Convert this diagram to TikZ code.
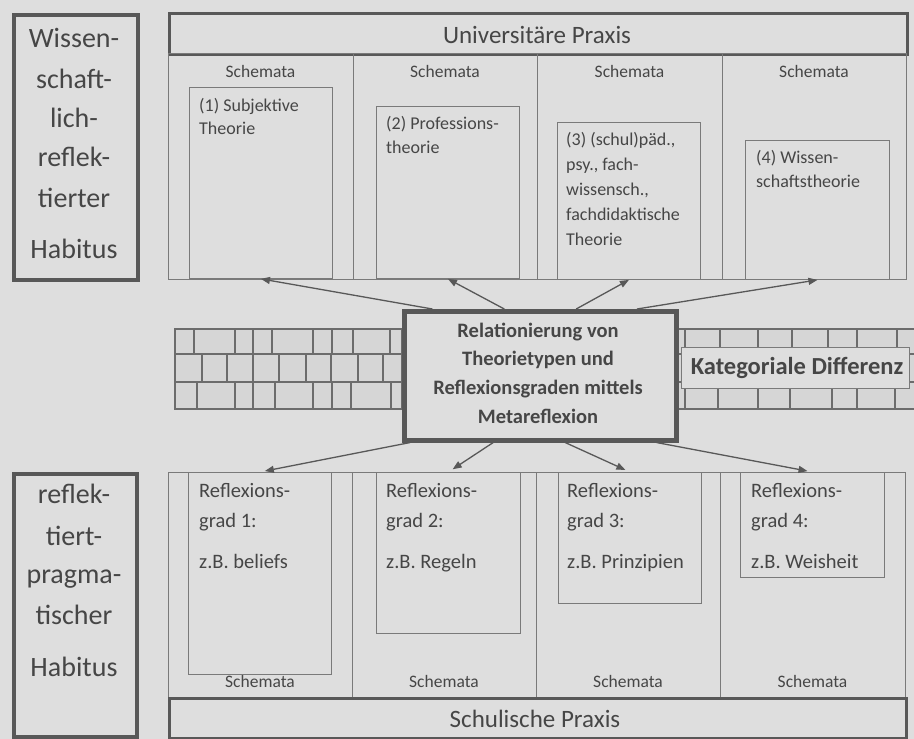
\documentclass[tikz,border=0pt]{standalone}
\usepackage{fontspec}
\setmainfont{Carlito}
\usetikzlibrary{calc,arrows.meta}
\definecolor{bg}{RGB}{222,222,222}
\definecolor{ln}{RGB}{122,122,122}
\definecolor{dk}{RGB}{88,88,88}
\definecolor{tx}{RGB}{70,70,70}
\definecolor{brickc}{RGB}{214,214,214}
\definecolor{mortar}{RGB}{108,108,108}
\begin{document}
\begin{tikzpicture}[x=1pt,y=-1pt,
  box/.style={draw=ln, line width=0.9pt, inner sep=0pt, anchor=north west},
  heavybox/.style={draw=dk, line width=3.5pt, inner sep=0pt, anchor=north west},
  praxisbox/.style={draw=dk, line width=2.5pt, inner sep=0pt, anchor=north west},
  txt/.style={inner sep=0pt, text=tx, anchor=base},
  ltxt/.style={inner sep=0pt, text=tx, anchor=base west},
  habfont/.style={font=\fontsize{28}{32}\selectfont},
  titfont/.style={font=\fontsize{25}{30}\selectfont},
  schfont/.style={font=\fontsize{17.5}{20}\selectfont},
  topfont/.style={font=\fontsize{18}{22}\selectfont},
  botfont/.style={font=\fontsize{20.5}{24}\selectfont},
  midfont/.style={font=\bfseries\fontsize{20.5}{24}\selectfont},
  katfont/.style={font=\bfseries\fontsize{24.5}{28}\selectfont},
  arr/.style={draw=dk, line width=1.3pt, -{Triangle[length=9pt,width=7pt]}},
  mort/.style={draw=mortar, line width=2.4pt}
]
\useasboundingbox (0,0) rectangle (914,739);
\fill[bg] (0,0) rectangle (914,739);

% ---------- brick walls ----------
\fill[brickc] (175,329) rectangle (402,409);
\draw[mort] (175,329) rectangle (402,409);
\draw[mort] (175,354) -- (402,354) (175,382) -- (402,382);
\foreach \x in {194,235,253,272,313,332,353,390} \draw[mort] (\x,329) -- (\x,354);
\foreach \x in {202,227,253,279,306,331,358,383} \draw[mort] (\x,354) -- (\x,382);
\foreach \x in {197,235,253,275,313,332,351,391} \draw[mort] (\x,382) -- (\x,409);

\fill[brickc] (674,329) rectangle (916,409);
\draw[mort] (674,329) -- (916,329) (674,409) -- (916,409);
\draw[mort] (674,354) -- (916,354) (674,382) -- (916,382);
\foreach \x in {685,720,758,792,828,857,897} \draw[mort] (\x,329) -- (\x,354);
\foreach \x in {702,740,775,810,845,878} \draw[mort] (\x,354) -- (\x,382);
\foreach \x in {685,718,758,790,832,857,895} \draw[mort] (\x,382) -- (\x,409);

% ---------- habitus boxes ----------
\node[heavybox, minimum width=124pt, minimum height=265pt] (hab1) at (12,13) {};
\node[heavybox, minimum width=123pt, minimum height=263pt] (hab2) at (12,472) {};
\foreach \t/\yy [count=\i] in {Wissen-/47, schaft-/88, lich-/127, reflek-/166, tierter/207, Habitus/258}
  \node[txt, habfont] (ha\i) at (74,\yy) {\t};
\foreach \t/\yy [count=\i] in {reflek-/503, tiert-/545, pragma-/583, tischer/624, Habitus/676}
  \node[txt, habfont] (hb\i) at (74,\yy) {\t};

% ---------- university practice ----------
\node[praxisbox, minimum width=738pt, minimum height=41pt] (uni) at (168,12) {};
\node[txt, titfont] (unit) at (537,43) {Universitäre Praxis};

\node[box, minimum width=185pt, minimum height=226pt] (c1) at (168,53) {};
\node[box, minimum width=184pt, minimum height=226pt] (c2) at (353,53) {};
\node[box, minimum width=185pt, minimum height=226pt] (c3) at (537,53) {};
\node[box, minimum width=184pt, minimum height=226pt] (c4) at (722,53) {};
\foreach \xx [count=\i] in {260.5,445,629.5,814}
  \node[txt, schfont] (cs\i) at (\xx,77) {Schemata};

\node[box, minimum width=143pt, minimum height=191pt] (s1) at (189,87) {};
\node[box, minimum width=143pt, minimum height=172pt] (s2) at (376,106) {};
\node[box, minimum width=143pt, minimum height=157pt] (s3) at (557,122) {};
\node[box, minimum width=144pt, minimum height=139pt] (s4) at (745,140) {};

\node[ltxt, topfont] (s1a) at (199,111) {(1) Subjektive};
\node[ltxt, topfont] (s1b) at (199,134) {Theorie};
\node[ltxt, topfont] (s2a) at (386,129) {(2) Professions-};
\node[ltxt, topfont] (s2b) at (386,153) {theorie};
\node[ltxt, topfont] (s3a) at (566,145) {(3) (schul)päd.,};
\node[ltxt, topfont] (s3b) at (566,170) {psy., fach-};
\node[ltxt, topfont] (s3c) at (566,195) {wissensch.,};
\node[ltxt, topfont] (s3d) at (566,220) {fachdidaktische};
\node[ltxt, topfont] (s3e) at (566,245) {Theorie};
\node[ltxt, topfont] (s4a) at (756,163) {(4) Wissen-};
\node[ltxt, topfont] (s4b) at (756,187) {schaftstheorie};

% ---------- school practice ----------
\node[box, minimum width=184pt, minimum height=225pt] (d1) at (168,472) {};
\node[box, minimum width=184pt, minimum height=225pt] (d2) at (352,472) {};
\node[box, minimum width=184pt, minimum height=225pt] (d3) at (536,472) {};
\node[box, minimum width=185pt, minimum height=225pt] (d4) at (720,472) {};
\foreach \xx [count=\i] in {260,444,628,812.5}
  \node[txt, schfont] (ds\i) at (\xx,687) {Schemata};

\node[box, minimum width=143pt, minimum height=202pt] (r1) at (188,472) {};
\node[box, minimum width=144pt, minimum height=161pt] (r2) at (376,472) {};
\node[box, minimum width=143pt, minimum height=131pt] (r3) at (558,472) {};
\node[box, minimum width=144pt, minimum height=105pt] (r4) at (740,472) {};

\foreach \xx/\n/\ex [count=\i] in {199/1/beliefs, 386/2/Regeln, 567/3/Prinzipien, 751/4/Weisheit} {
  \node[ltxt, botfont] (r\i a) at (\xx,497) {Reflexions-};
  \node[ltxt, botfont] (r\i b) at (\xx,527) {grad \n:};
  \node[ltxt, botfont] (r\i c) at (\xx,568) {z.B. \ex};
}

\node[praxisbox, minimum width=737pt, minimum height=40pt] (sch) at (168,697) {};
\node[txt, titfont] (scht) at (535,727) {Schulische Praxis};

% ---------- central box ----------
\node[draw=dk, fill=bg, line width=4.5pt, inner sep=0pt, anchor=north west,
      minimum width=272pt, minimum height=129pt] (m) at (402,309) {};
\node[txt, midfont] (m1) at (538,337) {Relationierung von};
\node[txt, midfont] (m2) at (538,365) {Theorietypen und};
\node[txt, midfont] (m3) at (538,394) {Reflexionsgraden mittels};
\node[txt, midfont] (m4) at (538,423) {Metareflexion};

% ---------- categorical difference ----------
\node[draw=ln, fill=bg, line width=1pt, inner sep=0pt, anchor=north west,
      minimum width=228pt, minimum height=41pt] (k) at (681,347) {};
\node[txt, katfont] (kt) at (797,374) {Kategoriale Differenz};

% ---------- arrows ----------
\draw[arr] ($(m.north west)!0.11!(m.north east)$) -- (s1.south);
\draw[arr] ($(m.north west)!0.37!(m.north east)$) -- (s2.south);
\draw[arr] ($(m.north west)!0.63!(m.north east)$) -- (s3.south);
\draw[arr] ($(m.north west)!0.85!(m.north east)$) -- (s4.south);
\draw[arr, shorten >=5pt] ($(m.south west)!0.03!(m.south east)$) -- (r1.north);
\draw[arr, shorten >=5pt] ($(m.south west)!0.33!(m.south east)$) -- (r2.north);
\draw[arr, shorten >=5pt] ($(m.south west)!0.59!(m.south east)$) -- (r3.north);
\draw[arr, shorten >=5pt] ($(m.south west)!0.92!(m.south east)$) -- (r4.north);
\end{tikzpicture}
\end{document}
